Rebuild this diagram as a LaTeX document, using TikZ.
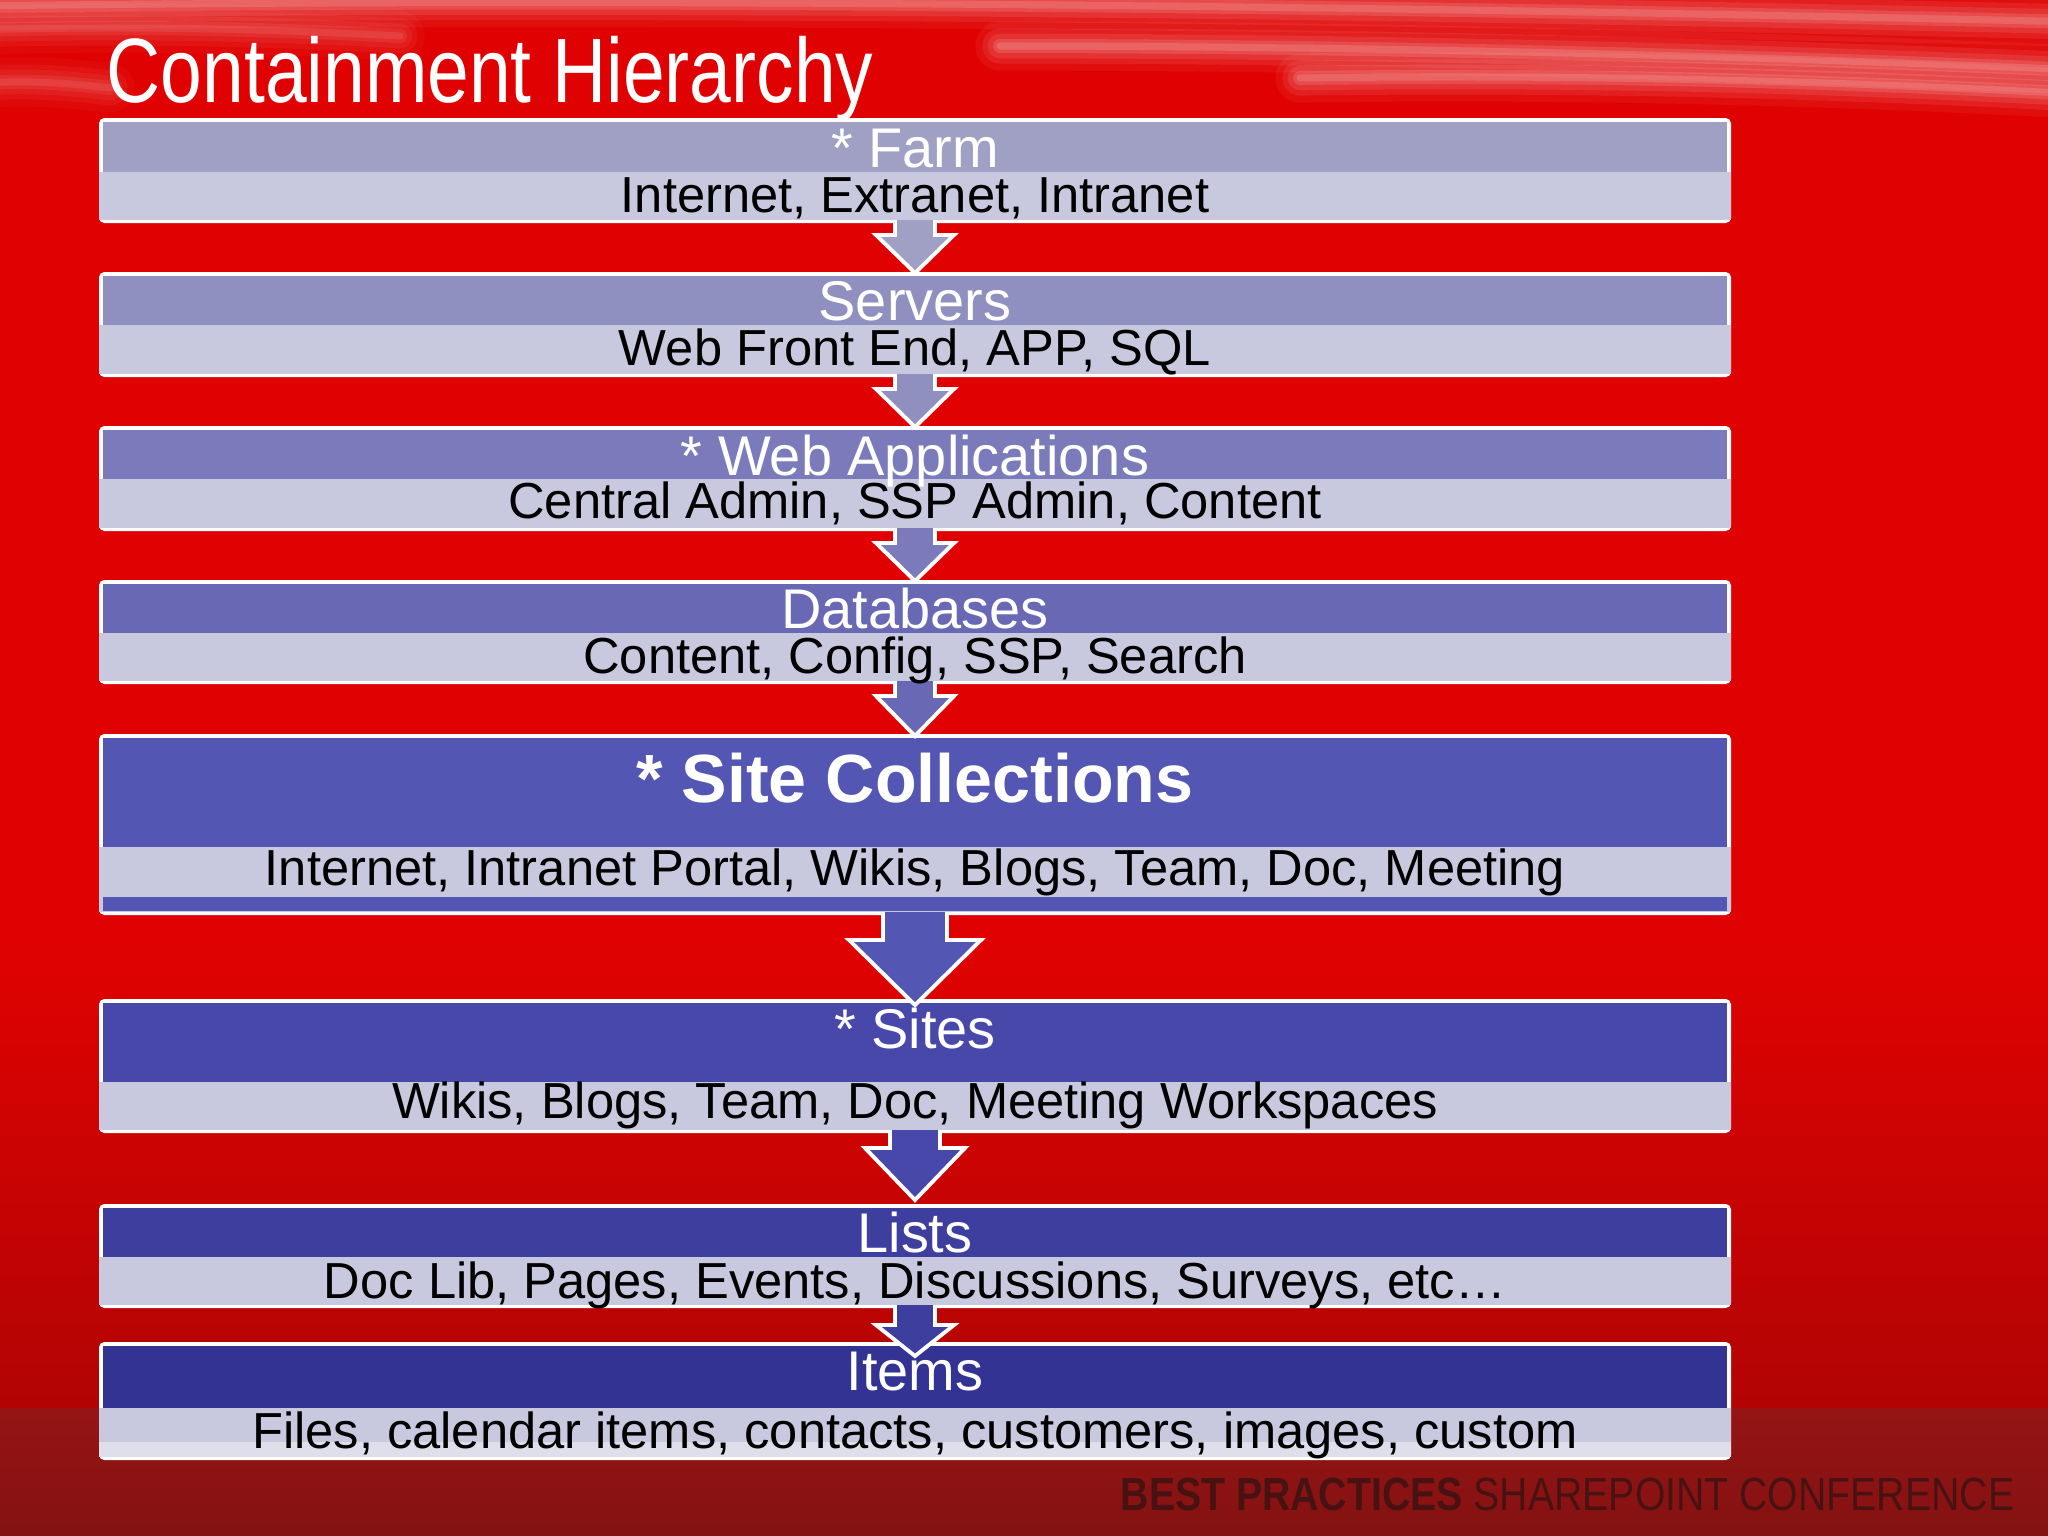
\documentclass[tikz,border=0pt]{standalone}
\usepackage{fontspec}
\setmainfont{Liberation Sans}
\newfontfamily\titlefont[FakeStretch=0.82]{Liberation Sans}
\newfontfamily\footfont[FakeStretch=0.845]{Liberation Sans}
\usetikzlibrary{calc}

\definecolor{bgred}{RGB}{224,2,2}
\definecolor{bglow}{RGB}{178,4,4}
\definecolor{bgband}{RGB}{150,20,20}
\definecolor{footc}{RGB}{62,18,18}
\definecolor{bodyfill}{RGB}{200,201,222}
\definecolor{lv1}{RGB}{160,160,196}
\definecolor{lv2}{RGB}{144,144,192}
\definecolor{lv3}{RGB}{123,123,187}
\definecolor{lv4}{RGB}{104,104,180}
\definecolor{lv5}{RGB}{84,86,180}
\definecolor{lv6}{RGB}{72,72,170}
\definecolor{lv7}{RGB}{62,62,158}
\definecolor{lv8}{RGB}{51,51,147}

\tikzset{
  headtxt/.style={anchor=base, inner sep=0pt, text=white, font=\fontsize{15.9}{18}\selectfont},
  bodytxt/.style={anchor=base, inner sep=0pt, text=black, font=\fontsize{14.4}{17}\selectfont},
  downarrow/.style={draw=white, line width=1.1pt, line join=miter},
  streak/.style={white, line cap=round},
}

\begin{document}
\begin{tikzpicture}[x=0.01cm, y=-0.01cm]
    \useasboundingbox (0,0) rectangle (2048,1536);
    % background
    \fill[bgred] (0,0) rectangle (2048,1536);
    \shade[top color=bgred, bottom color=bglow] (0,950) rectangle (2048,1408);
    \shade[top color=bgband, bottom color=bgband!88!black] (0,1408) rectangle (2048,1536);
    \foreach \lw/\op in {14pt/0.05, 10pt/0.07, 7pt/0.09, 4pt/0.12, 2pt/0.14} {
        \draw[streak, line width=\lw, opacity=\op] (-30,6) .. controls (600,-2) and (1300,4) .. (2080,22);
        \draw[streak, line width=\lw, opacity=\op] (1000,46) .. controls (1400,46) and (1800,58) .. (2080,70);
        \draw[streak, line width=\lw, opacity=\op] (1300,78) .. controls (1600,74) and (1850,82) .. (2080,94);
        \draw[streak, line width=\lw, opacity=0.6*\op] (-30,30) .. controls (120,26) and (250,28) .. (400,36);
        \draw[streak, line width=\lw, opacity=0.6*\op] (-30,84) .. controls (20,80) and (60,82) .. (110,88);
    }

    % boxes
    \foreach \n/\ty/\sy/\by in {1/118/172/223, 2/272/325/377, 3/426/479/531, 4/580/633/684,
                                5/734/847/915, 6/999/1082/1133, 7/1204/1257/1308, 8/1342/1408/1460} {
        \fill[white, rounded corners=1.5pt] (99,\ty) rectangle (1731,\by);
        \fill[lv\n] (103,\ty+4) rectangle (1727,\sy);
        \fill[bodyfill] (99,\sy) rectangle (1731,\by-3);
        \coordinate (top\n) at (915,\ty);
        \coordinate (bot\n) at (915,\by);
    }
    \fill[lv5] (103,897) rectangle (1727,911);
    \fill[bodyfill!60!white] (99,1442) rectangle (1731,1457);

    % arrows
    \foreach \up/\dn/\w/\h/\hs/\tp in {1/2/20/39/12/1, 2/3/20/39/12/1, 3/4/20/39/12/1, 4/5/20/39/12/2,
                                      5/6/32/66/25/6, 6/7/25/50/15/-4, 7/8/20/39/17/14} {
        \filldraw[downarrow, fill=lv\up] ($(bot\up)+(-\w,-3)$) -- ($(bot\up)+(-\w,\hs)$)
            -- ($(bot\up)+(-\h,\hs)$) -- ($(top\dn)+(0,\tp)$) -- ($(bot\up)+(\h,\hs)$)
            -- ($(bot\up)+(\w,\hs)$) -- ($(bot\up)+(\w,-3)$);
    }

    % texts
    \foreach \n/\hy/\by/\hd/\bd in {1/167/212/{* Farm}/{Internet, Extranet, Intranet},
                                    2/320/365/{Servers}/{Web Front End, APP, SQL},
                                    3/475/518/{* Web Applications}/{Central Admin, SSP Admin, Content},
                                    4/628/673/{Databases}/{Content, Config, SSP, Search},
                                    6/1048/1118/{* Sites}/{Wikis, Blogs, Team, Doc, Meeting Workspaces},
                                    7/1252/1298/{Lists}/{Doc Lib, Pages, Events, Discussions, Surveys, etc\dots},
                                    8/1390/1448/{Items}/{Files, calendar items, contacts, customers, images, custom}} {
        \node[headtxt] (head\n) at (915,\hy) {\hd};
        \node[bodytxt] (body\n) at (915,\by) {\bd};
    }
    \node[headtxt, font=\bfseries\fontsize{19.4}{23}\selectfont] (head5) at (915,802) {* Site Collections};
    \node[bodytxt] (body5) at (915,885) {Internet, Intranet Portal, Wikis, Blogs, Team, Doc, Meeting};

    \node[anchor=base west, inner sep=0pt, text=white, font=\titlefont\fontsize{26}{30}\selectfont]
        (title) at (106,102) {Containment Hierarchy};
    \node[anchor=base west, inner sep=0pt, text=footc, opacity=0.85, font=\footfont\fontsize{13.2}{15}\selectfont]
        (footer) at (1120,1510) {\textbf{BEST PRACTICES} SHAREPOINT CONFERENCE};
\end{tikzpicture}
\end{document}
